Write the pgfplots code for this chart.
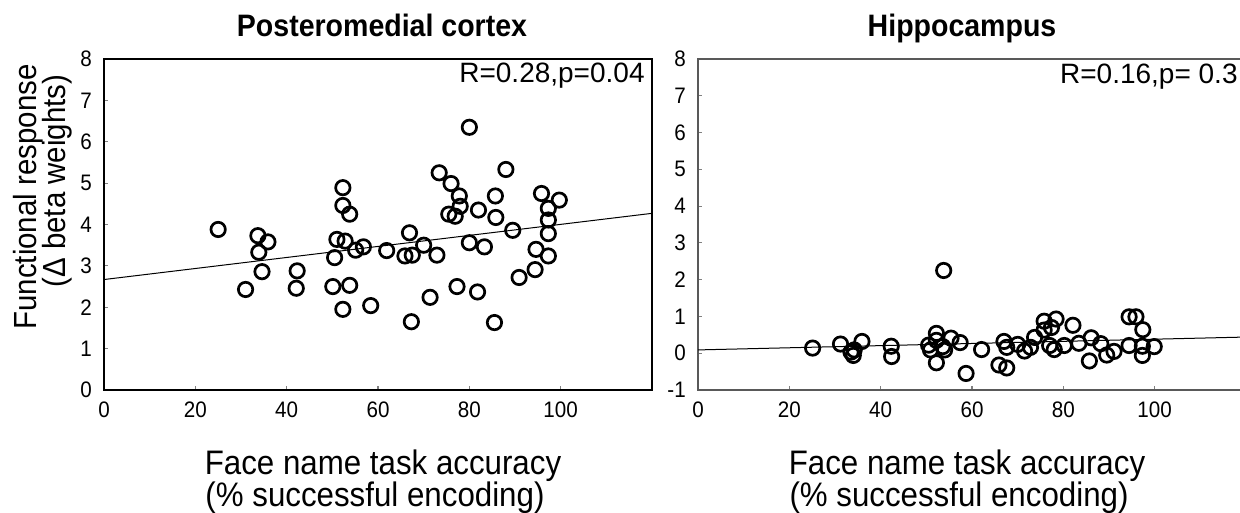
\documentclass[border=0pt]{standalone}
\usepackage{pgfplots}
\pgfplotsset{compat=1.18}
\usepackage{fontspec}
\setmainfont{Liberation Sans}[FakeStretch=0.92]
\newfontfamily\rfont{Liberation Sans}

\pgfplotsset{
  panel/.style={
    scale only axis, width=274pt, height=165.5pt,
    xmin=0, xmax=120, xtick={0,20,40,60,80,100},
    tick align=inside, xtick pos=bottom, ytick pos=left,
    major tick length=2pt, tick style={line width=0.6pt},
    axis line style={line width=0.8pt},
    tick label style={font=\fontsize{11.2}{12}\selectfont},
    /pgf/number format/assume math mode=true,
    xticklabel shift=2.6pt, yticklabel shift=2.6pt,
  },
  scat/.style={only marks, mark=o, mark size=3.6pt,
    mark options={line width=1.35pt, draw=black}},
  fit/.style={black, line width=0.5pt, no marks},
}

\begin{document}
\begin{tikzpicture}[x=0.5pt,y=-0.5pt]

% Posteromedial cortex
\begin{axis}[panel, at={(52pt,-195pt)}, anchor=south west,
  ymin=0, ymax=8, ytick={0,1,...,8}, axis line style={black}]
\addplot[fit] coordinates {(0,2.67) (120,4.27)};
\addplot[scat] table {
x y
25.0 3.88
31.0 2.43
33.7 3.73
33.9 3.33
34.6 2.86
35.9 3.58
42.3 2.88
42.1 2.46
50.1 2.50
50.5 3.20
51.0 3.64
52.3 4.89
52.3 4.46
52.3 1.95
52.8 3.60
53.8 4.25
53.8 2.53
55.1 3.38
56.8 3.46
58.4 2.04
61.9 3.37
65.9 3.24
66.9 3.80
67.5 3.26
67.3 1.65
70.0 3.50
71.4 2.24
72.9 3.26
73.4 5.25
76.0 4.99
75.5 4.25
76.9 4.20
77.8 4.69
78.0 4.44
77.3 2.50
80.0 6.35
80.0 3.56
82.0 4.35
81.8 2.37
83.3 3.46
85.7 4.69
85.8 4.17
85.5 1.63
88.0 5.33
89.5 3.86
90.9 2.72
94.4 2.91
94.6 3.40
95.8 4.75
97.3 4.39
97.3 4.11
97.3 3.78
97.3 3.24
99.7 4.59
};
\end{axis}

% Hippocampus
\begin{axis}[panel, at={(349pt,-195pt)}, anchor=south west,
  ymin=-1, ymax=8, ytick={-1,0,...,8}, axis line style={black!65}]
\addplot[fit] coordinates {(0,0.09) (120,0.44)};
\addplot[scat] table {
x y
25.1 0.14
31.2 0.25
33.5 0.03
34.2 0.09
34.0 -0.06
35.9 0.32
42.3 0.19
42.4 -0.09
50.5 0.22
50.9 0.09
52.2 0.54
52.2 0.35
52.2 -0.26
53.6 0.18
54.0 0.09
53.8 2.25
55.4 0.41
57.4 0.29
58.7 -0.55
62.1 0.10
65.9 -0.32
67.6 -0.40
67.0 0.32
67.6 0.16
70.0 0.24
71.5 0.06
72.8 0.16
73.7 0.43
75.8 0.87
78.4 0.93
75.8 0.63
77.4 0.70
77.0 0.21
78.0 0.10
80.2 0.21
82.1 0.76
83.4 0.27
86.1 0.42
85.7 -0.21
88.2 0.26
89.5 -0.05
91.1 0.05
94.4 0.99
95.9 0.99
97.4 0.64
94.4 0.21
97.3 0.19
97.3 -0.06
99.9 0.18
};
\end{axis}

% titles
\node[anchor=base, inner sep=0pt, font=\fontsize{15.5}{17}\selectfont\bfseries] at (382,37) {Posteromedial cortex};
\node[anchor=base, inner sep=0pt, font=\fontsize{15.5}{17}\selectfont\bfseries] at (962,37) {Hippocampus};

% statistics
\node[anchor=base east, inner sep=0pt, font=\rfont\fontsize{14}{16}\selectfont] at (645,83) {R=0.28,p=0.04};
\node[anchor=base east, inner sep=0pt, font=\rfont\fontsize{14}{16}\selectfont] at (1238,84) {R=0.16,p= 0.3};

% x labels
\node[anchor=base, inner sep=0pt, font=\fontsize{17}{18}\selectfont] at (383,474) {Face name task accuracy};
\node[anchor=base, inner sep=0pt, font=\fontsize{17}{18}\selectfont] at (375,506) {(\% successful encoding)};
\node[anchor=base, inner sep=0pt, font=\fontsize{17}{18}\selectfont] at (967,474) {Face name task accuracy};
\node[anchor=base, inner sep=0pt, font=\fontsize{17}{18}\selectfont] at (959,506) {(\% successful encoding)};

% y label
\node[anchor=base, rotate=90, inner sep=0pt, font=\fontsize{16}{18}\selectfont] at (36,197) {Functional response};
\node[anchor=base, rotate=90, inner sep=0pt, font=\fontsize{16}{18}\selectfont] at (65,181) {(Δ beta weights)};

\pgfresetboundingbox
\useasboundingbox (0,0) rectangle (1240,513);
\end{tikzpicture}
\end{document}
